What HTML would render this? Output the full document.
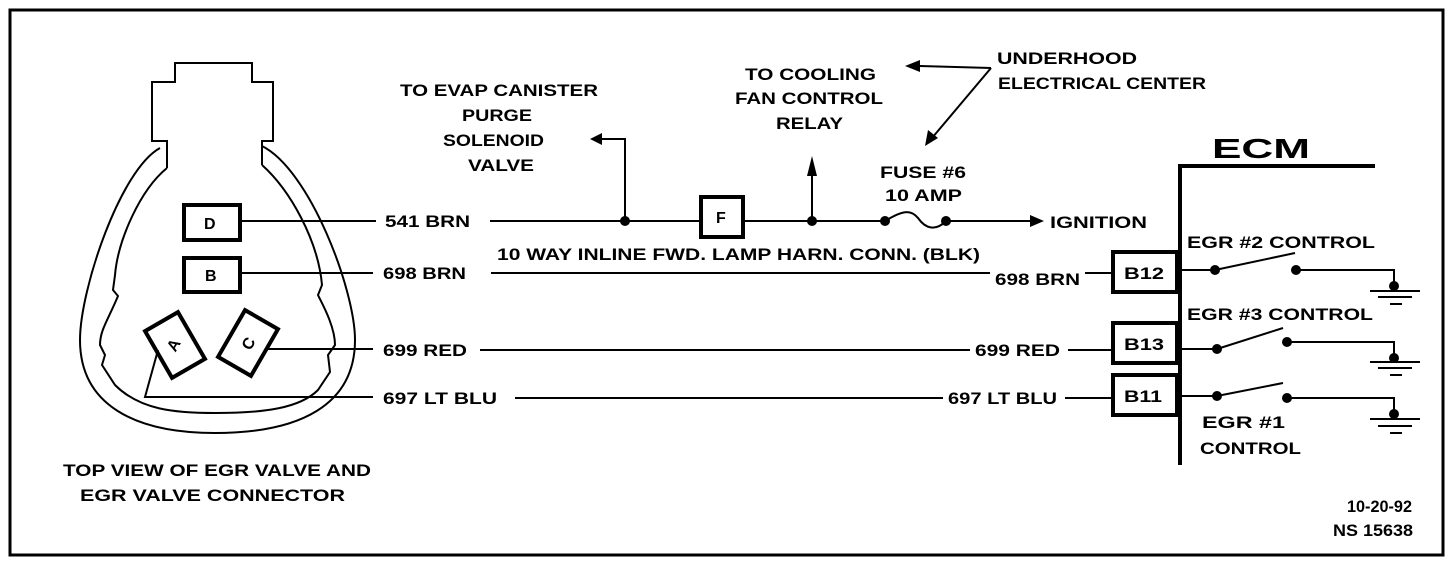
<!DOCTYPE html>
<html><head><meta charset="utf-8"><style>
html,body{margin:0;padding:0;background:#fff;}
svg{display:block;}
text{font-family:"Liberation Sans",sans-serif;font-weight:bold;fill:#000;}
</style></head><body>
<svg width="1456" height="562" viewBox="0 0 1456 562" xmlns="http://www.w3.org/2000/svg" font-size="17">
<rect x="10" y="10" width="1433" height="545" fill="none" stroke="#000" stroke-width="3"/>
<g fill="none" stroke="#000" stroke-width="2">
<path d="M167,168 L167,141 L152,141 L152,82 L175,82 L175,63 L252,63 L252,82 L273,82 L273,141 L262,141 L262,165" />
<path d="M160,148 C120,170 80,290 80,340 C80,405 135,433 215,433 C300,433 355,405 355,340 C355,290 310,170 262,146"/>
<path d="M167,168 C140,190 118,240 115,275 L113,290 L118,296 C108,320 100,330 100,345 L105,355 L102,365 L115,385 C140,410 175,413 215,413 C265,413 300,408 318,390 L330,372 L328,355 L335,345 C335,325 320,300 318,295 L322,285 C318,240 290,190 262,165"/>
</g>
<g fill="#fff" stroke="#000" stroke-width="4">
<rect x="184" y="205" width="56" height="35"/>
<rect x="184" y="258" width="56" height="34"/>
<rect x="156" y="318" width="38" height="54" transform="rotate(-30 175 345)"/>
<rect x="229" y="316" width="38" height="54" transform="rotate(30 248 343)"/>
<rect x="701" y="197" width="42" height="40"/>
<rect x="1113" y="252" width="64" height="40"/>
<rect x="1113" y="323" width="64" height="40"/>
<rect x="1113" y="375" width="64" height="40"/>
</g>
<text x="204" y="229" style="font-size:16px">D</text>
<text x="205" y="281" style="font-size:16px">B</text>
<text x="168" y="350" style="font-size:16px" transform="rotate(-60 174 345)">A</text>
<text x="242" y="349" style="font-size:16px" transform="rotate(-60 248 343)">C</text>
<text x="716" y="223" style="font-size:16px">F</text>
<text x="1124" y="279" textLength="40" lengthAdjust="spacingAndGlyphs">B12</text>
<text x="1124" y="350" textLength="40" lengthAdjust="spacingAndGlyphs">B13</text>
<text x="1124" y="402" textLength="38" lengthAdjust="spacingAndGlyphs">B11</text>
<g fill="none" stroke="#000" stroke-width="2">
<line x1="241" y1="221" x2="376" y2="221"/>
<line x1="241" y1="273" x2="373" y2="273"/>
<line x1="265" y1="349" x2="373" y2="349"/>
<polyline points="158,350 145,397 373,397"/>
<line x1="490" y1="221" x2="701" y2="221"/>
<line x1="743" y1="221" x2="885" y2="221"/>
<line x1="946" y1="221" x2="1030" y2="221"/>
<path d="M885,221 C900,212 910,208 918,218 C925,228 935,232 946,221"/>
<polyline points="625,221 625,139 600,139"/>
<line x1="812" y1="221" x2="812" y2="168"/>
<line x1="491" y1="273" x2="990" y2="273"/>
<line x1="1085" y1="273" x2="1113" y2="273"/>
<line x1="480" y1="350" x2="970" y2="350"/>
<line x1="1068" y1="350" x2="1113" y2="350"/>
<line x1="515" y1="398" x2="943" y2="398"/>
<line x1="1065" y1="398" x2="1113" y2="398"/>
<line x1="991" y1="68" x2="920" y2="66"/>
<line x1="991" y1="68" x2="932" y2="138"/>
</g>
<g fill="#000">
<circle cx="625" cy="221" r="5"/><circle cx="812" cy="221" r="5"/>
<circle cx="885" cy="221" r="5"/><circle cx="946" cy="221" r="5"/>
<polygon points="812,156 807,176 817,176"/>
<polygon points="590,139 602,133 602,145"/>
<polygon points="1044,221 1030,215 1030,227"/>
<polygon points="905,66 920,60 920,72"/>
<polygon points="925,146 928,130 938,138"/>
</g>
<g fill="none" stroke="#000" stroke-width="4">
<polyline points="1180,465 1180,166 1375,166"/>
</g>
<g fill="none" stroke="#000" stroke-width="2">
<line x1="1178" y1="270" x2="1215" y2="270"/><line x1="1215" y1="270" x2="1295" y2="253"/><polyline points="1296,270 1394,270 1394,286"/>
<line x1="1370" y1="291" x2="1420" y2="291"/><line x1="1378" y1="297" x2="1412" y2="297"/><line x1="1390" y1="304" x2="1402" y2="304"/>
<line x1="1178" y1="349" x2="1217" y2="349"/><line x1="1217" y1="349" x2="1283" y2="328"/><polyline points="1287,342 1394,342 1394,358"/>
<line x1="1370" y1="362" x2="1420" y2="362"/><line x1="1378" y1="368" x2="1412" y2="368"/><line x1="1390" y1="375" x2="1402" y2="375"/>
<line x1="1178" y1="396" x2="1217" y2="396"/><line x1="1217" y1="396" x2="1283" y2="383"/><polyline points="1287,398 1394,398 1394,414"/>
<line x1="1370" y1="419" x2="1420" y2="419"/><line x1="1378" y1="426" x2="1412" y2="426"/><line x1="1390" y1="433" x2="1402" y2="433"/>
</g>
<g fill="#000">
<circle cx="1215" cy="270" r="5"/><circle cx="1296" cy="270" r="5"/><circle cx="1394" cy="286" r="5"/>
<circle cx="1217" cy="349" r="5"/><circle cx="1287" cy="342" r="5"/><circle cx="1394" cy="358" r="5"/>
<circle cx="1217" cy="396" r="5"/><circle cx="1287" cy="398" r="5"/><circle cx="1394" cy="414" r="5"/>
</g>
<text x="1212" y="158" style="font-size:28px" textLength="98" lengthAdjust="spacingAndGlyphs">ECM</text>
<text x="1187" y="248" textLength="188" lengthAdjust="spacingAndGlyphs">EGR  #2 CONTROL</text>
<text x="1187" y="320" textLength="186" lengthAdjust="spacingAndGlyphs">EGR  #3 CONTROL</text>
<text x="1202" y="428" textLength="83" lengthAdjust="spacingAndGlyphs">EGR  #1</text>
<text x="1200" y="454" textLength="101" lengthAdjust="spacingAndGlyphs">CONTROL</text>
<text x="385" y="227" textLength="85" lengthAdjust="spacingAndGlyphs">541 BRN</text>
<text x="383" y="279" textLength="83" lengthAdjust="spacingAndGlyphs">698 BRN</text>
<text x="383" y="356" textLength="84" lengthAdjust="spacingAndGlyphs">699 RED</text>
<text x="383" y="404" textLength="114" lengthAdjust="spacingAndGlyphs">697 LT  BLU</text>
<text x="995" y="285" textLength="85" lengthAdjust="spacingAndGlyphs">698 BRN</text>
<text x="975" y="356" textLength="85" lengthAdjust="spacingAndGlyphs">699 RED</text>
<text x="948" y="404" textLength="109" lengthAdjust="spacingAndGlyphs">697 LT BLU</text>
<text x="497" y="260" textLength="483" lengthAdjust="spacingAndGlyphs">10 WAY INLINE FWD. LAMP HARN. CONN. (BLK)</text>
<text x="1050" y="228" textLength="97" lengthAdjust="spacingAndGlyphs">IGNITION</text>
<text x="880" y="178" textLength="86" lengthAdjust="spacingAndGlyphs">FUSE #6</text>
<text x="885" y="201" textLength="77" lengthAdjust="spacingAndGlyphs">10 AMP</text>
<text x="745" y="80" textLength="131" lengthAdjust="spacingAndGlyphs">TO COOLING</text>
<text x="735" y="104" textLength="148" lengthAdjust="spacingAndGlyphs">FAN CONTROL</text>
<text x="776" y="129" textLength="67" lengthAdjust="spacingAndGlyphs">RELAY</text>
<text x="997" y="64" textLength="140" lengthAdjust="spacingAndGlyphs">UNDERHOOD</text>
<text x="998" y="89" textLength="208" lengthAdjust="spacingAndGlyphs">ELECTRICAL CENTER</text>
<text x="400" y="96" textLength="198" lengthAdjust="spacingAndGlyphs">TO EVAP CANISTER</text>
<text x="462" y="121" textLength="70" lengthAdjust="spacingAndGlyphs">PURGE</text>
<text x="443" y="146" textLength="101" lengthAdjust="spacingAndGlyphs">SOLENOID</text>
<text x="468" y="171" textLength="66" lengthAdjust="spacingAndGlyphs">VALVE</text>
<text x="63" y="476" textLength="308" lengthAdjust="spacingAndGlyphs">TOP VIEW OF EGR VALVE AND</text>
<text x="80" y="501" textLength="265" lengthAdjust="spacingAndGlyphs">EGR VALVE CONNECTOR</text>
<text x="1347" y="512" textLength="65" lengthAdjust="spacingAndGlyphs">10-20-92</text>
<text x="1333" y="536" textLength="80" lengthAdjust="spacingAndGlyphs">NS 15638</text>
</svg>
</body></html>
